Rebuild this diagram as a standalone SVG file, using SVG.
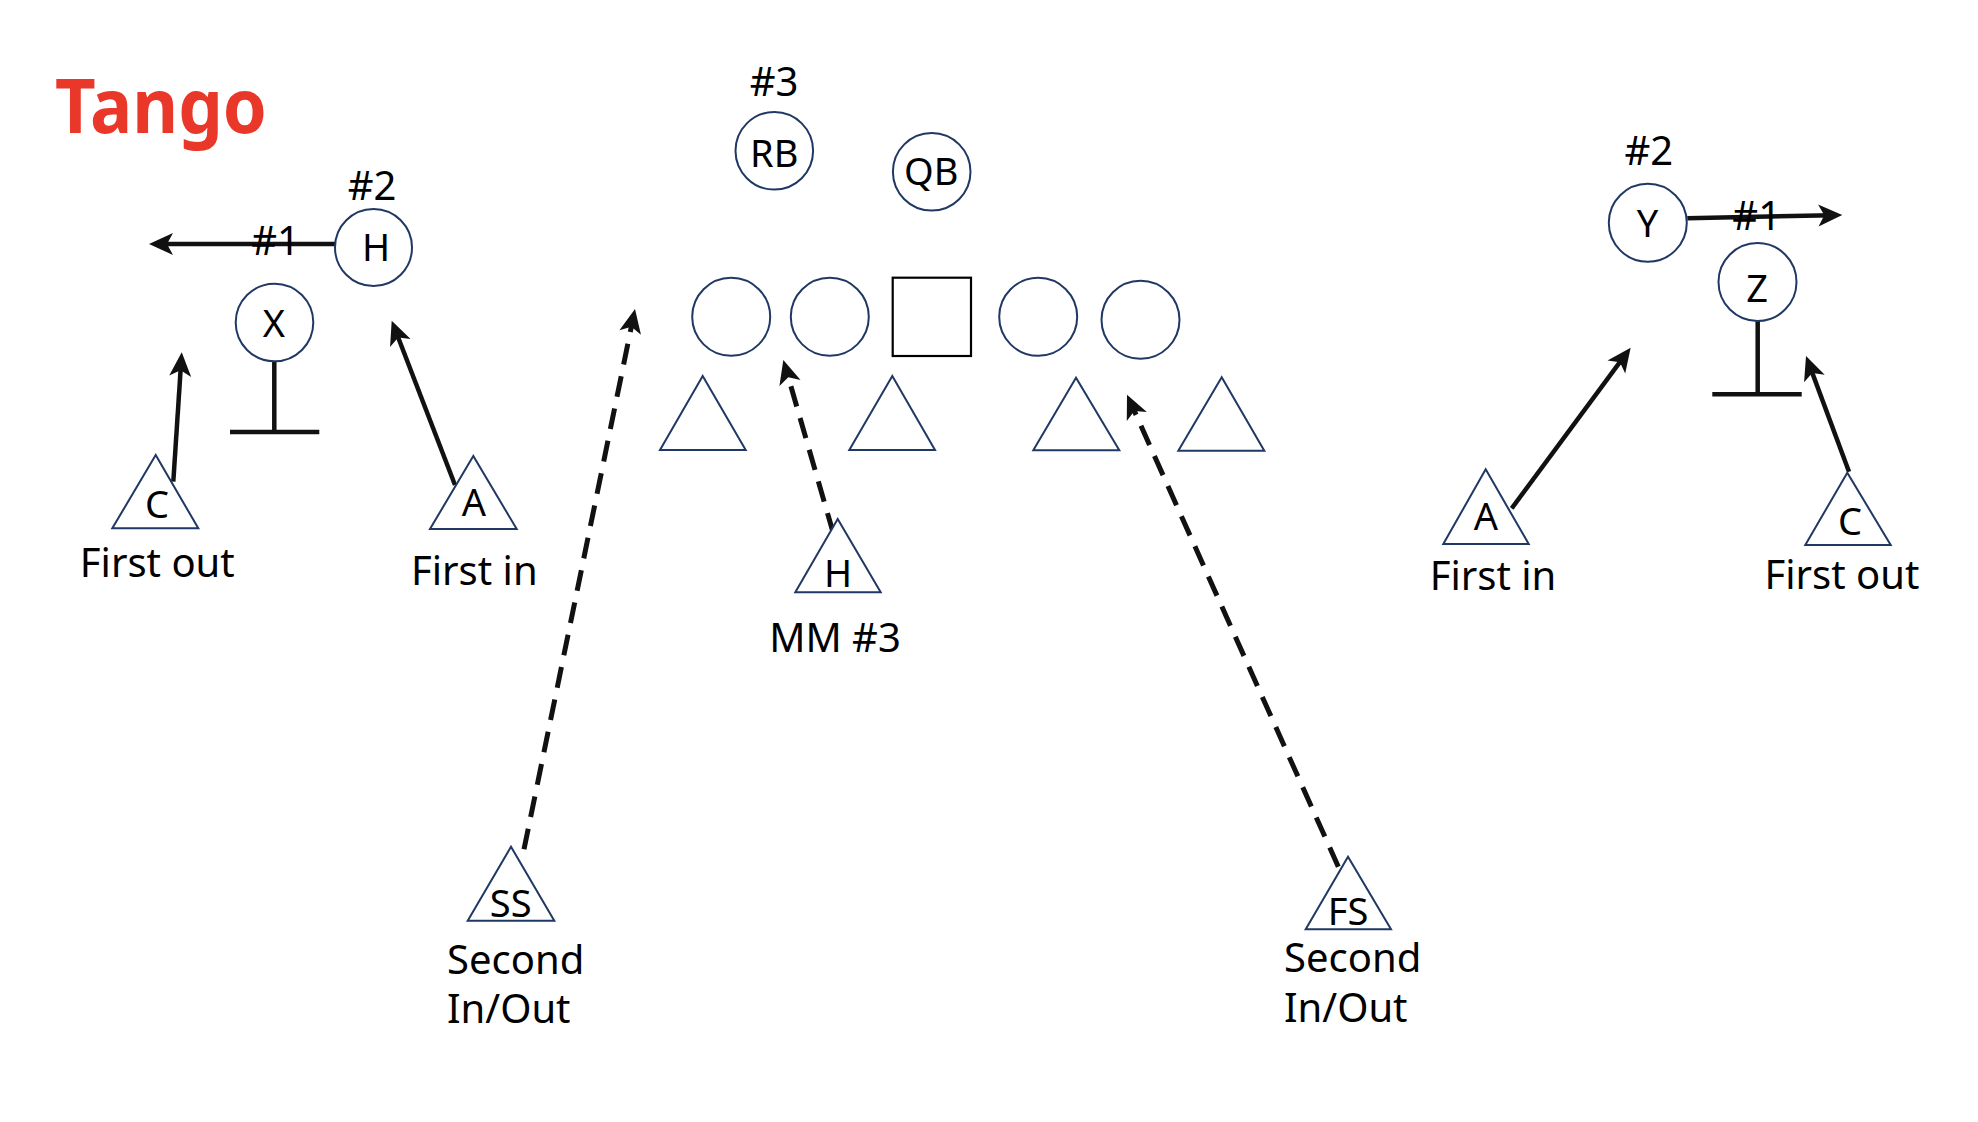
<svg xmlns="http://www.w3.org/2000/svg" width="1978" height="1122" viewBox="0 0 1978 1122">
<style>
  text { font-family: "Noto Sans", "Open Sans", "Liberation Sans", sans-serif; fill: #000; }
  .lbl { font-size: 38px; text-anchor: middle; }
  .capc { font-size: 40px; text-anchor: middle; }
  .cap { font-size: 40px; }
  .title { font-size: 76px; font-weight: 700; fill: #e9372a; }
  .pl { fill: #fff; stroke: #203864; stroke-width: 2; }
  .ctr { fill: #fff; stroke: #000; stroke-width: 2.2; }
  .run { fill: none; stroke: #111; stroke-width: 4.5; }
  .dash { fill: none; stroke: #111; stroke-width: 5; stroke-dasharray: 21 12; }
  .blk { fill: none; stroke: #111; stroke-width: 4.5; }
</style>
<defs>
  <marker id="ah" markerUnits="userSpaceOnUse" orient="auto" refX="0" refY="0" markerWidth="40" markerHeight="40" viewBox="-20 -20 40 40" overflow="visible">
    <path d="M10,0 L-14,-11 L-8,0 L-14,11 Z" fill="#111"/>
  </marker>
</defs>
<rect width="1978" height="1122" fill="#fff"/>

<text id="title" class="title" x="55" y="133" textLength="212" lengthAdjust="spacingAndGlyphs">Tango</text>

<g id="connectors">
  <line class="run" x1="335" y1="244" x2="159" y2="244" marker-end="url(#ah)"/>
  <line class="run" x1="173.3" y1="481.7" x2="181.1" y2="362.3" marker-end="url(#ah)"/>
  <line class="run" x1="455" y1="485" x2="395.3" y2="330" marker-end="url(#ah)"/>
  <line class="dash" x1="833.3" y1="533.3" x2="786.1" y2="369.6" marker-end="url(#ah)"/>
  <line class="dash" x1="524" y1="849.3" x2="633" y2="318.8" marker-end="url(#ah)"/>
  <line class="dash" x1="1338.3" y1="866.7" x2="1131.1" y2="403.8" marker-end="url(#ah)"/>
  <line class="run" x1="1687.3" y1="218.3" x2="1832.3" y2="215.2" marker-end="url(#ah)"/>
  <line class="run" x1="1511.7" y1="508.3" x2="1624.7" y2="355.7" marker-end="url(#ah)"/>
  <line class="run" x1="1849" y1="471.7" x2="1809.5" y2="365.4" marker-end="url(#ah)"/>
  <path class="blk" d="M274.3,361.7 V432 M230,432 H319.3"/>
  <path class="blk" d="M1757.7,320.7 V394.3 M1712.3,394.3 H1801.7"/>
</g>

<g id="node-H-left">
  <text class="capc" x="372" y="200">#2</text>
  <circle class="pl" cx="373.5" cy="247.5" r="38.5"/>
  <text class="lbl" x="376" y="261">H</text>
  <text class="capc" x="275.5" y="255">#1</text>
</g>
<g id="node-X">
  <circle class="pl" cx="274.5" cy="322.5" r="38.8"/>
  <text class="lbl" x="274" y="337">X</text>
</g>
<g id="node-C-left">
  <polygon class="pl" points="155.7,455 112.3,528.3 198.3,528.3"/>
  <text class="lbl" x="157" y="518">C</text>
  <text class="capc" x="157.3" y="576.7">First out</text>
</g>
<g id="node-A-left">
  <polygon class="pl" points="473.3,456 430,529 516.7,529"/>
  <text class="lbl" x="474" y="516">A</text>
  <text class="capc" x="474.3" y="585">First in</text>
</g>
<g id="node-RB">
  <text class="capc" x="774" y="95.7">#3</text>
  <circle class="pl" cx="774.3" cy="150.8" r="38.8"/>
  <text class="lbl" x="774.2" y="166.7">RB</text>
</g>
<g id="node-QB">
  <circle class="pl" cx="931.7" cy="171.8" r="38.8"/>
  <text class="lbl" x="931.3" y="185">QB</text>
</g>
<g id="node-OL1"><circle class="pl" cx="731.2" cy="316.8" r="39"/></g>
<g id="node-OL2"><circle class="pl" cx="829.8" cy="316.8" r="39"/></g>
<g id="node-C"><rect class="ctr" x="892.7" y="277.7" width="78.3" height="78.3"/></g>
<g id="node-OL4"><circle class="pl" cx="1038.2" cy="316.8" r="39"/></g>
<g id="node-OL5"><circle class="pl" cx="1140.5" cy="319.8" r="39"/></g>

<g id="node-DL1"><polygon class="pl" points="702.7,376 660,450 745.7,450"/></g>
<g id="node-DL2"><polygon class="pl" points="892.3,376 849.3,450 935,450"/></g>
<g id="node-DL3"><polygon class="pl" points="1076,377.7 1033.3,450.3 1119.3,450.3"/></g>
<g id="node-DL4"><polygon class="pl" points="1221.7,377.3 1178.3,450.7 1264.3,450.7"/></g>

<g id="node-H-def">
  <polygon class="pl" points="837.7,519 795.3,592.3 880.7,592.3"/>
  <text class="lbl" x="838" y="587.3">H</text>
  <text class="capc" x="835" y="651.7">MM #3</text>
</g>
<g id="node-SS">
  <polygon class="pl" points="511,846.7 467.7,920.7 554.3,920.7"/>
  <text class="lbl" x="510.7" y="917.3">SS</text>
  <text class="cap" x="447" y="974">Second</text>
  <text class="cap" x="447" y="1023.3">In/Out</text>
</g>
<g id="node-FS">
  <polygon class="pl" points="1348,856.7 1305.7,929.3 1391,929.3"/>
  <text class="lbl" x="1348" y="925">FS</text>
  <text class="cap" x="1284" y="972">Second</text>
  <text class="cap" x="1284" y="1022">In/Out</text>
</g>
<g id="node-Y">
  <text class="capc" x="1648.8" y="165">#2</text>
  <circle class="pl" cx="1647.8" cy="222.8" r="39"/>
  <text class="lbl" x="1647.5" y="237.3">Y</text>
  <text class="capc" x="1756.7" y="230">#1</text>
</g>
<g id="node-Z">
  <circle class="pl" cx="1757.5" cy="282" r="39"/>
  <text class="lbl" x="1757" y="301.7">Z</text>
</g>
<g id="node-A-right">
  <polygon class="pl" points="1485.7,469.3 1443.3,544 1528.7,544"/>
  <text class="lbl" x="1485.8" y="530">A</text>
  <text class="capc" x="1493" y="590">First in</text>
</g>
<g id="node-C-right">
  <polygon class="pl" points="1847.3,472.7 1805.3,545 1890.7,545"/>
  <text class="lbl" x="1850" y="535">C</text>
  <text class="capc" x="1842" y="589.3">First out</text>
</g>
</svg>
